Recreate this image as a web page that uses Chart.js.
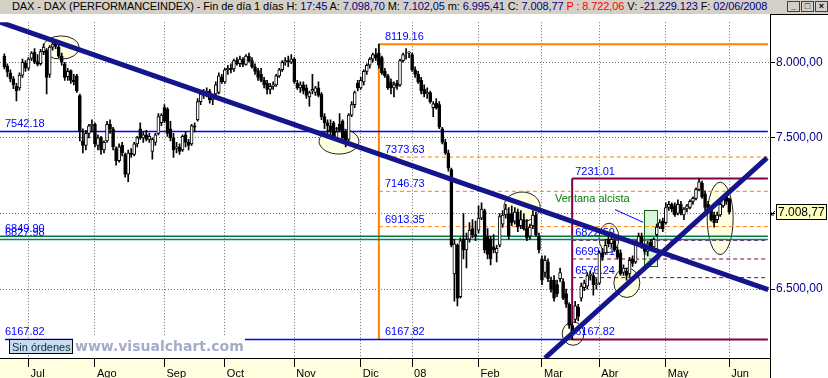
<!DOCTYPE html>
<html>
<head>
<meta charset="utf-8">
<script src="https://cdn.jsdelivr.net/npm/chart.js@4.4.0/dist/chart.umd.min.js"></script>
<style>
  html, body { margin: 0; padding: 0; background: #fff; }
  #wrap { position: relative; width: 828px; height: 378px; overflow: hidden; }
  #head { position: absolute; left: 0; top: 0; width: 828px; height: 14px; background: #d4d0c8;
          font: 11px "Liberation Sans", Arial, sans-serif; line-height: 13px; white-space: nowrap; color: #000;
          letter-spacing: -0.1px; }
  #head .t { position: absolute; left: 12px; top: 0; }
  .v { color: #000080; }
  .r { color: #ff0000; }
  #btns { position: absolute; left: 787px; top: 1px; letter-spacing: 0; }
  #btns span { display: inline-block; width: 11px; height: 9px; border: 1px solid #404040; margin-right: 1px;
               font: bold 9px Arial, sans-serif; line-height: 8px; text-align: center; vertical-align: top; }
  #cv { position: absolute; left: 0; top: 14px; }
</style>
</head>
<body>
<div id="wrap">
  <div id="head">
    <span class="t">DAX - DAX (PERFORMANCEINDEX) - Fin de día 1 días H: <span class="v">17:45</span> A: <span class="v">7.098,70</span> M: <span class="v">7.102,05</span> m: <span class="v">6.995,41</span> C: <span class="v">7.008,77</span> <span class="r">P : 8.722,06</span> V: <span class="v">-21.229.123</span> F: <span class="v">02/06/2008</span></span>
    <div id="btns"><span>_</span><span>□</span><span>×</span></div>
  </div>
  <canvas id="cv" width="828" height="364"></canvas>
</div>
<script>
// daily bars, 20/06/2007 .. 02/06/2008 (index 0 = first bar)
const monthLabels = ['Jul', 'Ago', 'Sep', 'Oct', 'Nov', 'Dic', '08', 'Feb', 'Mar', 'Abr', 'May', 'Jun'];
const monthStarts = [8, 30, 53, 73, 96, 118, 135, 157, 178, 197, 219, 240];
const priceTicks = [6500, 7000, 7500, 8000];

const opens = [
  8040, 7975, 7930, 7890, 7840, 7830, 7915, 7995,
  7960, 8025, 8065, 8005, 7990, 8070, 8080, 7920, 8100, 8125, 8100, 8040, 7990, 7905, 7945, 7880, 7910, 7780, 7480, 7450, 7530, 7580,
  7590, 7450, 7500, 7420, 7480, 7590, 7560, 7430, 7350, 7450, 7390, 7260, 7400, 7390, 7460, 7560, 7500, 7520, 7490, 7410, 7470, 7530, 7600,
  7700, 7690, 7560, 7500, 7430, 7440, 7420, 7520, 7470, 7460, 7580, 7620, 7740, 7790, 7780, 7810, 7750, 7790, 7800, 7900,
  7870, 7950, 7960, 7955, 8010, 7990, 8020, 7985, 8040, 8010, 7970, 7945, 7920, 7880, 7860, 7820, 7840, 7850, 7910, 7950, 8000, 8010, 8000,
  8020, 7860, 7830, 7850, 7830, 7770, 7810, 7800, 7830, 7790, 7640, 7600, 7580, 7600, 7500, 7590, 7610, 7540, 7490, 7650, 7720, 7860,
  7830, 7870, 7940, 7980, 8020, 8050, 8060, 8030, 7940, 7910, 7870, 7830, 7860, 7850, 8010, 8060, 8060,
  8050, 7950, 7920, 7880, 7820, 7790, 7800, 7700, 7730, 7720, 7560, 7470, 7400, 7290, 6600, 6790, 6450, 6830, 6760, 6830, 6900, 6860,
  6890, 6970, 7020, 6850, 6830, 6780, 6740, 6790, 6930, 6990, 7000, 7000, 6950, 7010, 6920, 6960, 6900, 6850, 6920, 6990, 6850,
  6700, 6610, 6680, 6560, 6560, 6530, 6570, 6550, 6470, 6400, 6260, 6300, 6380, 6440, 6510, 6520, 6590, 6590, 6530,
  6540, 6740, 6740, 6830, 6800, 6820, 6760, 6740, 6610, 6620, 6600, 6700, 6680, 6800, 6850, 6790, 6750, 6810, 6780, 6860, 6910, 6950,
  6940, 7040, 7060, 7050, 7000, 7060, 6990, 7030, 7040, 7080, 7100, 7160, 7200, 7130, 7060, 7030, 6990, 6960, 6990, 7050, 7120,
  7098.70
];
const highs = [
  8055, 7990, 7950, 7905, 7860, 7930, 8020, 8010,
  8030, 8070, 8090, 8050, 8085, 8120, 8090, 8110, 8150, 8151, 8130, 8060, 8000, 7960, 7950, 7920, 7920, 7790, 7560, 7550, 7590, 7620,
  7600, 7520, 7510, 7480, 7610, 7620, 7570, 7440, 7460, 7470, 7400, 7420, 7430, 7470, 7510, 7600, 7540, 7550, 7530, 7500, 7530, 7660, 7660,
  7720, 7700, 7610, 7530, 7470, 7460, 7520, 7540, 7490, 7590, 7600, 7760, 7810, 7820, 7830, 7820, 7790, 7870, 7930, 7920,
  7960, 7980, 7990, 8020, 8030, 8040, 8030, 8050, 8060, 8030, 7990, 7960, 7960, 7900, 7880, 7860, 7870, 7920, 7960, 8010, 8030, 8040, 8050,
  8030, 7880, 7870, 7870, 7850, 7810, 7920, 7840, 7870, 7800, 7660, 7620, 7620, 7610, 7570, 7660, 7620, 7550, 7660, 7740, 7810, 7880,
  7900, 7950, 7990, 8030, 8060, 8090, 8119.16, 8040, 7960, 7920, 7890, 7870, 7880, 8020, 8060, 8090, 8070,
  8060, 7970, 7940, 7900, 7850, 7830, 7810, 7740, 7760, 7740, 7570, 7490, 7420, 7300, 6830, 6800, 6840, 7000, 6870, 6940, 6960, 6950,
  7050, 7070, 7030, 6900, 6850, 6860, 6790, 7000, 7020, 7060, 7040, 7050, 7040, 7030, 7020, 7000, 6960, 6930, 7020, 7010, 6870,
  6720, 6720, 6700, 6580, 6590, 6560, 6640, 6570, 6500, 6410, 6270, 6420, 6400, 6540, 6560, 6610, 6620, 6610, 6570,
  6750, 6770, 6830, 6850, 6870, 6840, 6780, 6760, 6660, 6640, 6710, 6720, 6820, 6870, 6870, 6800, 6820, 6830, 6840, 6930, 6960, 6970,
  7070, 7080, 7070, 7070, 7090, 7080, 7040, 7060, 7090, 7110, 7170, 7231.01, 7215, 7150, 7080, 7050, 7010, 7010, 7070, 7120, 7140,
  7102.05
];
const lows = [
  7955, 7905, 7870, 7825, 7745, 7815, 7900, 7940,
  7945, 8010, 7990, 7975, 7980, 8050, 7790, 7900, 8080, 8090, 8030, 7980, 7880, 7880, 7860, 7850, 7800, 7480, 7400, 7420, 7500, 7540,
  7440, 7420, 7390, 7400, 7470, 7530, 7420, 7320, 7340, 7380, 7240, 7210, 7370, 7380, 7440, 7490, 7470, 7480, 7470, 7360, 7450, 7520, 7580,
  7600, 7510, 7480, 7370, 7400, 7390, 7410, 7440, 7420, 7450, 7540, 7610, 7720, 7760, 7770, 7730, 7720, 7780, 7790, 7860,
  7860, 7920, 7930, 7940, 7980, 7970, 7970, 7980, 8000, 7960, 7920, 7880, 7870, 7830, 7790, 7790, 7820, 7840, 7900, 7940, 7980, 7970, 7990,
  7860, 7820, 7800, 7790, 7760, 7710, 7790, 7780, 7770, 7620, 7560, 7500, 7520, 7490, 7480, 7540, 7490, 7440, 7480, 7640, 7700, 7810,
  7820, 7850, 7920, 7960, 8000, 8010, 7960, 7920, 7900, 7820, 7790, 7770, 7820, 7840, 8000, 8020, 8030,
  7940, 7900, 7860, 7790, 7770, 7760, 7730, 7640, 7690, 7560, 7460, 7390, 7280, 6780, 6420, 6390, 6440, 6700, 6640, 6810, 6840, 6820,
  6870, 6960, 6740, 6700, 6660, 6740, 6680, 6780, 6910, 6970, 6830, 6920, 6930, 6880, 6900, 6890, 6820, 6830, 6900, 6850, 6740,
  6530, 6580, 6550, 6480, 6420, 6450, 6550, 6430, 6380, 6240, 6167.82, 6280, 6290, 6420, 6490, 6500, 6560, 6460, 6500,
  6530, 6690, 6730, 6780, 6780, 6750, 6700, 6590, 6590, 6560, 6580, 6650, 6670, 6790, 6770, 6730, 6720, 6760, 6760, 6850, 6900, 6880,
  6930, 7020, 7010, 6980, 6990, 6990, 6960, 7010, 7030, 7060, 7090, 7150, 7100, 7020, 7010, 6950, 6910, 6940, 6980, 7040, 7060,
  6995.41
];
const closes = [
  7970, 7935, 7890, 7850, 7810, 7915, 8000, 7960,
  8020, 8060, 8000, 7985, 8070, 8100, 7900, 8100, 8120, 8105, 8040, 8000, 7900, 7940, 7880, 7870, 7810, 7540, 7450, 7530, 7580, 7590,
  7460, 7500, 7420, 7470, 7590, 7560, 7440, 7350, 7440, 7400, 7260, 7400, 7390, 7460, 7500, 7500, 7520, 7490, 7510, 7490, 7520, 7640, 7650,
  7610, 7530, 7500, 7420, 7440, 7410, 7510, 7470, 7450, 7580, 7570, 7740, 7790, 7780, 7810, 7750, 7770, 7850, 7910, 7870,
  7950, 7960, 7950, 8010, 7990, 8020, 7985, 8040, 8010, 7970, 7940, 7900, 7880, 7850, 7820, 7840, 7850, 7910, 7950, 8000, 8010, 8000, 8020,
  7870, 7830, 7850, 7810, 7780, 7800, 7820, 7830, 7780, 7640, 7600, 7580, 7550, 7500, 7540, 7550, 7500, 7480, 7650, 7720, 7800, 7830,
  7880, 7940, 7980, 8020, 8050, 8030, 7980, 7930, 7910, 7830, 7830, 7850, 7840, 8010, 8050, 8060, 8067,
  7950, 7920, 7870, 7810, 7790, 7800, 7740, 7725, 7700, 7570, 7470, 7400, 7300, 6790, 6800, 6440, 6820, 6760, 6830, 6890, 6860, 6850,
  6970, 7030, 6760, 6730, 6700, 6760, 6770, 6980, 6990, 7030, 6850, 6940, 7010, 6910, 6960, 6900, 6840, 6910, 6990, 6860, 6760,
  6560, 6690, 6570, 6500, 6440, 6470, 6610, 6440, 6400, 6260, 6200, 6390, 6320, 6520, 6540, 6590, 6600, 6530, 6535,
  6740, 6710, 6790, 6800, 6830, 6760, 6710, 6600, 6640, 6590, 6690, 6670, 6800, 6850, 6780, 6750, 6800, 6770, 6830, 6910, 6940, 6900,
  7040, 7060, 7030, 6990, 7060, 7000, 7030, 7050, 7080, 7100, 7160, 7210, 7110, 7040, 7020, 6960, 6940, 6990, 7060, 7100, 7080,
  7008.77
];

// drawn studies
const refLevels = [7542.18, 6849.90, 6827.98, 6167.82];
const fibRange = [8119.16, 6167.82];
const fibLevels = [7373.63, 7146.73, 6913.35];
const boxRange = [7231.01, 6167.82];
const boxLevels = [6822.59, 6699.41, 6576.24];
const downTrend = [[-1.44, 8265.2], [252.9, 6496.7]];
const upTrend = [[179.0, 6045.0], [252.5, 7367.7]];
const windowBox = [211.9, 216.2, 7026, 6658];
const windowPointer = [[202.2, 7025.7], [211.5, 6941.9]];
// ellipse marks: centre index, centre price, half width (bars), half height (points)
const marks = [
  [18.8, 8097, 6.0, 77], [110.8, 7477, 6.6, 84], [171.4, 7045, 6.0, 97], [200.2, 6839, 3.3, 97],
  [206.1, 6542, 4.3, 97], [188.3, 6206, 3.6, 77], [237.0, 6968, 4.3, 239]
];

const X_MIN = -1.44, X_MAX = 253.5, X_END = 252.8;
const peakIdx = highs.indexOf(fibRange[0]);
const lowIdx = lows.indexOf(fibRange[1]);
const FONT = '"Liberation Sans", Arial, sans-serif';

function fmt(v) {
  return Math.floor(v / 1000) + '.' + String(Math.round(v % 1000)).padStart(3, '0') + ',00';
}

function seg(pts, color, width, dash, order) {
  return {
    type: 'line',
    data: pts.map(p => ({ x: p[0], y: p[1] })),
    borderColor: color, borderWidth: width, borderDash: dash || [],
    pointRadius: 0, pointHoverRadius: 0, fill: false, tension: 0,
    order: order === undefined ? 10 : order
  };
}

const datasets = [];
datasets.push({
  type: 'bar',
  data: closes.map((c, i) => ({ x: i, y: [opens[i], c] })),
  backgroundColor: ctx => closes[ctx.dataIndex] >= opens[ctx.dataIndex] ? '#ffffff' : '#000000',
  borderColor: '#000', borderWidth: 1, borderSkipped: false,
  barThickness: 3, grouped: false, order: 4
});
datasets.push({
  type: 'bar',
  data: lows.map((l, i) => ({ x: i, y: [l, highs[i]] })),
  backgroundColor: '#000', borderWidth: 0,
  barThickness: 1, grouped: false, order: 5
});

// horizontal reference lines
datasets.push(seg([[X_MIN, refLevels[0]], [X_END, refLevels[0]]], '#0000ff', 1.5));
datasets.push(seg([[X_MIN, refLevels[1]], [X_END, refLevels[1]]], '#007a3d', 1.5));
datasets.push(seg([[X_MIN, refLevels[2]], [X_END, refLevels[2]]], '#008080', 1.5));
datasets.push(seg([[0.2, refLevels[3]], [lowIdx, refLevels[3]]], '#0000ff', 1.5));
// fibonacci from the December top
datasets.push(seg([[peakIdx, fibRange[0]], [X_END, fibRange[0]]], '#ff8000', 2));
datasets.push(seg([[peakIdx, fibRange[0]], [peakIdx, fibRange[1]]], '#ff8000', 2));
fibLevels.forEach(v => datasets.push(seg([[peakIdx, v], [X_END, v]], '#ff8000', 1, [4, 3])));
// box from the March low
datasets.push(seg([[lowIdx, boxRange[0]], [X_END, boxRange[0]]], '#800040', 2));
datasets.push(seg([[lowIdx, boxRange[1]], [X_END, boxRange[1]]], '#800040', 2));
datasets.push(seg([[lowIdx, boxRange[0]], [lowIdx, boxRange[1]]], '#800040', 2));
boxLevels.forEach(v => datasets.push(seg([[lowIdx, v], [X_END, v]], '#800040', 1, [4, 3])));
// trend lines on top
datasets.push(seg(downTrend, '#14148c', 5, [], 0));
datasets.push(seg(upTrend, '#14148c', 5, [], 0));
datasets.push(seg(windowPointer, '#0000ff', 1, [], 0));

const studies = {
  id: 'studies',
  beforeDraw(chart) {
    const { ctx, chartArea: a, width, height } = chart;
    ctx.save();
    ctx.fillStyle = '#fff';
    ctx.fillRect(0, 0, width, height);
    ctx.fillStyle = '#ffffe0';
    ctx.fillRect(0, a.bottom, a.right, height - a.bottom);
    ctx.restore();
  },
  beforeDatasetsDraw(chart) {
    const { ctx, chartArea: a, scales: { x, y } } = chart;
    ctx.save();
    ctx.beginPath();
    ctx.rect(a.left, a.top, a.right - a.left, a.bottom - a.top);
    ctx.clip();
    marks.forEach(m => {
      const cx = x.getPixelForValue(m[0]), cy = y.getPixelForValue(m[1]);
      const rx = Math.abs(x.getPixelForValue(m[0] + m[2]) - cx);
      const ry = Math.abs(y.getPixelForValue(m[1] + m[3]) - cy);
      ctx.beginPath();
      ctx.ellipse(cx, cy, rx, ry, 0, 0, Math.PI * 2);
      ctx.fillStyle = '#ffffe1';
      ctx.fill();
      ctx.strokeStyle = '#222';
      ctx.lineWidth = 1;
      ctx.stroke();
    });
    const bx0 = x.getPixelForValue(windowBox[0]), bx1 = x.getPixelForValue(windowBox[1]);
    const by0 = y.getPixelForValue(windowBox[2]), by1 = y.getPixelForValue(windowBox[3]);
    ctx.fillStyle = '#d8f6d8';
    ctx.fillRect(bx0, by0, bx1 - bx0, by1 - by0);
    ctx.strokeStyle = '#1e5a1e';
    ctx.strokeRect(Math.round(bx0) + 0.5, Math.round(by0) + 0.5, Math.round(bx1 - bx0), Math.round(by1 - by0));

    // level labels
    ctx.font = '11px ' + FONT;
    ctx.fillStyle = '#0000ff';
    ctx.textBaseline = 'alphabetic';
    const put = (idx, v) => ctx.fillText(v.toFixed(2), x.getPixelForValue(idx), y.getPixelForValue(v) - 4);
    refLevels.forEach(v => put(0.2, v));
    [fibRange[0], ...fibLevels, fibRange[1]].forEach(v => put(peakIdx + 2, v));
    [boxRange[0], ...boxLevels, boxRange[1]].forEach(v => put(lowIdx + 1, v));
    ctx.fillStyle = '#008000';
    ctx.fillText('Ventana alcista', x.getPixelForValue(182.3), y.getPixelForValue(7077));
    ctx.restore();
  },
  afterDraw(chart) {
    const { ctx, chartArea: a, width, height, scales: { y } } = chart;
    ctx.save();
    // panel borders
    ctx.strokeStyle = '#000';
    ctx.lineWidth = 1;
    ctx.beginPath();
    ctx.moveTo(Math.round(a.right) + 0.5, 0);
    ctx.lineTo(Math.round(a.right) + 0.5, height);
    ctx.moveTo(Math.round(a.right), 0.5);
    ctx.lineTo(width, 0.5);
    ctx.stroke();

    // watermark
    ctx.fillStyle = '#fff';
    ctx.fillRect(73, a.bottom - 21, 172, 20);
    ctx.fillStyle = '#c8dcef';
    ctx.fillRect(9, a.bottom - 18, 63, 14);
    ctx.strokeStyle = '#000';
    ctx.strokeRect(9.5, a.bottom - 18.5, 63, 14);
    ctx.fillStyle = '#0a2a40';
    ctx.font = '11px ' + FONT;
    ctx.fillText('Sin órdenes', 12, a.bottom - 7);
    ctx.fillStyle = '#a6aacb';
    ctx.font = 'bold 14px "DejaVu Sans", Verdana, sans-serif';
    ctx.fillText('www.visualchart.com', 75, a.bottom - 7);

    // last price box
    const last = closes[closes.length - 1];
    const py = Math.round(y.getPixelForValue(last));
    ctx.fillStyle = '#ffffc0';
    ctx.fillRect(776, py - 7, 50, 15);
    ctx.strokeStyle = '#000';
    ctx.strokeRect(776.5, py - 7.5, 50, 15);
    ctx.fillStyle = '#000';
    ctx.font = '12px ' + FONT;
    ctx.textBaseline = 'middle';
    ctx.fillText(fmt(Math.floor(last)).replace(',00', ',' + String(Math.round((last % 1) * 100)).padStart(2, '0')), 778, py + 1);
    ctx.beginPath();
    ctx.moveTo(771, py + 3);
    ctx.lineTo(775, py - 1);
    ctx.moveTo(771, py + 3);
    ctx.lineTo(771, py);
    ctx.moveTo(771, py + 3);
    ctx.lineTo(774, py + 3);
    ctx.stroke();
    ctx.restore();
  }
};

new Chart(document.getElementById('cv').getContext('2d'), {
  type: 'bar',
  data: { datasets: datasets },
  options: {
    responsive: false,
    animation: false,
    devicePixelRatio: 1,
    events: [],
    layout: { padding: 0 },
    plugins: { legend: { display: false }, tooltip: { enabled: false } },
    scales: {
      x: {
        type: 'linear', min: X_MIN, max: X_MAX, offset: false,
        grid: { offset: false, color: '#707070', lineWidth: 1, drawTicks: true, tickLength: 9,
                tickColor: '#000', tickWidth: 1, tickBorderDash: [] },
        border: { display: true, color: '#000', width: 1, dash: [1, 2] },
        ticks: {
          autoSkip: false, maxRotation: 0, minRotation: 0, align: 'start', labelOffset: 2, padding: 0,
          color: '#000', font: { family: '"Liberation Sans Narrow", ' + FONT, size: 11 },
          callback: v => { const i = monthStarts.indexOf(v); return i >= 0 ? monthLabels[i] : ''; }
        },
        afterBuildTicks: s => { s.ticks = monthStarts.map(v => ({ value: v })); },
        afterFit: s => { s.height = 20; }
      },
      y: {
        type: 'linear', position: 'right', min: 6045, max: 8264.5, beginAtZero: false,
        grid: { color: '#707070', lineWidth: 1, drawTicks: true, tickLength: 5,
                tickColor: '#000', tickWidth: 1, tickBorderDash: [] },
        border: { display: true, color: '#000', width: 1, dash: [1, 2] },
        ticks: {
          padding: 1, color: '#000080', font: { family: FONT, size: 12 },
          callback: v => v === 7000 ? '' : fmt(v)
        },
        afterBuildTicks: s => { s.ticks = priceTicks.map(v => ({ value: v })); },
        afterFit: s => { s.width = 58; }
      }
    }
  },
  plugins: [studies]
});
</script>
</body>
</html>
